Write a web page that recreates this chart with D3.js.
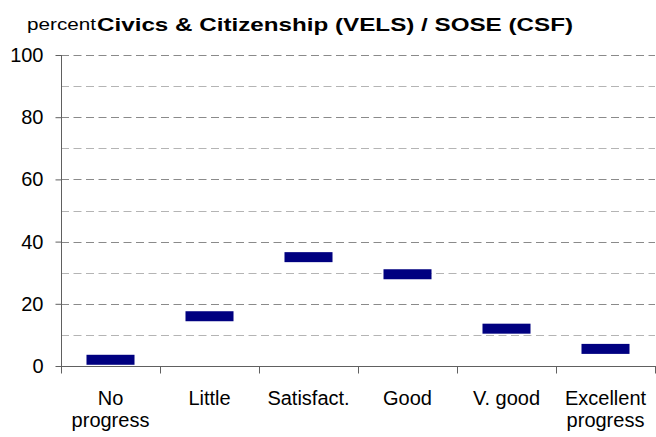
<!DOCTYPE html>
<html><head><meta charset="utf-8">
<script src="https://cdn.jsdelivr.net/npm/d3@7"></script>
<style>body{margin:0;background:#fff}svg{display:block;font-family:"Liberation Sans",Arial,sans-serif}</style>
</head><body>
<script>
const categories = [["No","progress"],["Little"],["Satisfact."],["Good"],["V. good"],["Excellent","progress"]];
const values = [2, 16, 35, 29.5, 12, 5.5];
const majorTicks = [0, 20, 40, 60, 80, 100];
const minorTicks = [10, 30, 50, 70, 90];
const titleText = "Civics & Citizenship (VELS) / SOSE (CSF)";
const yLabel = "percent";

const W = 656, H = 437;
const m = {left: 61, right: 1, top: 55, bottom: 71};
const svg = d3.select("body").append("svg").attr("width", W).attr("height", H);

const x = d3.scaleBand().domain(d3.range(categories.length)).range([m.left, W - m.right]);
const y = d3.scaleLinear().domain([0, 100]).range([H - m.bottom, m.top]);

// gridlines
svg.append("g").selectAll("line").data(minorTicks).join("line")
  .attr("x1", m.left).attr("x2", W - m.right)
  .attr("y1", d => Math.round(y(d)) + 0.5).attr("y2", d => Math.round(y(d)) + 0.5)
  .attr("stroke", "#b4b4b4").attr("stroke-dasharray", "8,4.5");
svg.append("g").selectAll("line").data(majorTicks.filter(d => d > 0)).join("line")
  .attr("x1", m.left).attr("x2", W - m.right)
  .attr("y1", d => Math.round(y(d)) + 0.5).attr("y2", d => Math.round(y(d)) + 0.5)
  .attr("stroke", "#8a8a8a").attr("stroke-dasharray", "8,4.5");

// y axis
const ya = svg.append("g").attr("transform", `translate(${m.left + 0.5},0)`)
  .call(d3.axisLeft(y).tickValues(majorTicks).tickSize(6).tickPadding(12));
ya.select(".domain").attr("stroke", "#606060").attr("d", `M-0,${y(100)}V${y(0)}`);
ya.selectAll(".tick line").attr("stroke", "#606060");
ya.selectAll(".tick text").attr("font-size", 20).attr("fill", "#000")
  .attr("font-family", '"Liberation Sans",Arial,sans-serif');

// x axis
const xa = svg.append("g").attr("transform", `translate(0,${Math.round(y(0)) + 0.5})`);
xa.append("line").attr("x1", m.left).attr("x2", W).attr("stroke", "#606060");
const bounds = d3.range(categories.length + 1).map(i => m.left + i * x.bandwidth());
xa.selectAll("line.tk").data(bounds).join("line").attr("class", "tk")
  .attr("x1", d => Math.round(d) + 0.5).attr("x2", d => Math.round(d) + 0.5)
  .attr("y1", 0).attr("y2", 7).attr("stroke", "#606060");
const lab = xa.selectAll("text").data(categories).join("text")
  .attr("text-anchor", "middle").attr("font-size", 20).attr("fill", "#000")
  .attr("transform", (d, i) => `translate(${x(i) + x.bandwidth() / 2},38)`);
lab.selectAll("tspan").data(d => d).join("tspan")
  .attr("x", 0).attr("dy", (d, i) => i === 0 ? 0 : 22).text(d => d);

// markers
const bw = x.bandwidth() * 0.485;
svg.append("g").selectAll("rect").data(values).join("rect")
  .attr("x", (d, i) => x(i) + (x.bandwidth() - bw) / 2)
  .attr("y", d => y(d) - 5).attr("width", bw).attr("height", 10)
  .attr("fill", "#000080");

// title
svg.append("text").attr("x", 27).attr("y", 30).attr("font-size", 17)
  .attr("textLength", 69).attr("lengthAdjust", "spacingAndGlyphs").text(yLabel);
svg.append("text").attr("x", 97).attr("y", 31).attr("font-size", 19).attr("font-weight", "bold")
  .attr("textLength", 476).attr("lengthAdjust", "spacingAndGlyphs").text(titleText);
</script>
</body></html>
